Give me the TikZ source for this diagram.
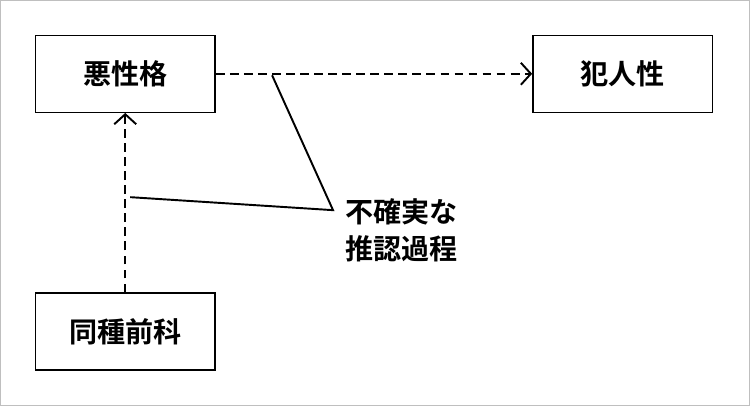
\documentclass[tikz,border=0pt]{standalone}
\usepackage{fontspec}
\newfontfamily\jpfont{Noto Sans CJK JP}[BoldFont={Noto Sans CJK JP Bold}]
\usetikzlibrary{arrows.meta}
\tikzset{
  factbox/.style={draw, thick, minimum width=3.6cm, minimum height=1.54cm, font=\jpfont\bfseries\fontsize{16}{18}\selectfont},
  infer/.style={dashed, line width=1.1pt, dash pattern=on 5pt off 3pt, -{Straight Barb[length=2mm,width=4.4mm,line width=1.1pt]}}
}
\begin{document}
\begin{tikzpicture}[x=0.02cm,y=-0.02cm]
	\draw[gray!50] (0,0) rectangle (750,405);
	\node[factbox] (akusei) at (125,73.5) {悪性格};
	\node[factbox] (hannin) at (623,73.5) {犯人性};
	\node[factbox] (zenka) at (125,331.5) {同種前科};
	\draw[infer] (akusei) -- (hannin);
	\draw[infer] (zenka) -- (akusei);
	\node[align=left, anchor=west, inner sep=0pt, font=\jpfont\bfseries\fontsize{16}{21}\selectfont] (fukakujitsu) at (345,230) {不確実な\\推認過程};
	\coordinate (tip) at (333,210);
	\draw[line width=1.1pt] (272,75) -- (tip) -- (130,197);
\end{tikzpicture}
\end{document}
